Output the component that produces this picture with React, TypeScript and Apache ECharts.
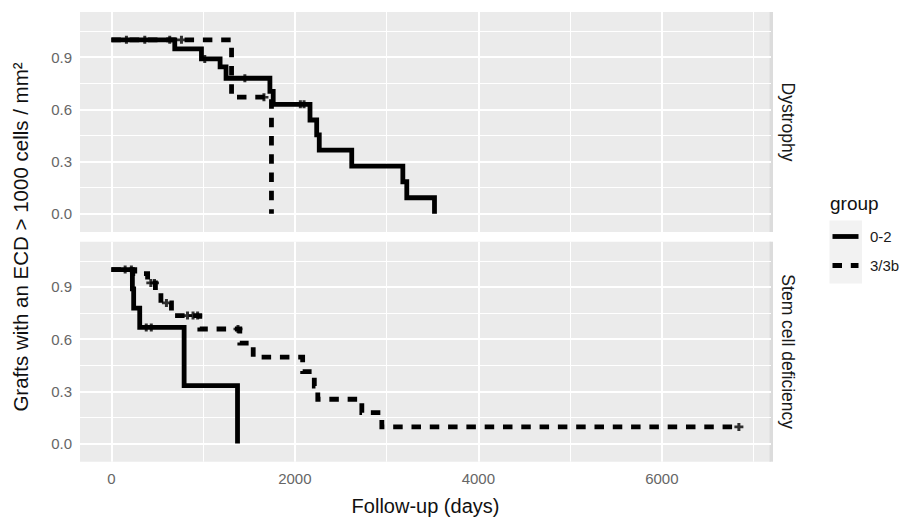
import React, { useEffect, useRef } from "react";
import * as echarts from "echarts";

const groups = ["0-2", "3/3b"];
const panels = ["Dystrophy", "Stem cell deficiency"];
const xTicks = [0, 2000, 4000, 6000];
const xMinor = [1000, 3000, 5000, 7000];
const yTicks = [0, 0.3, 0.6, 0.9];
const yMinor = [0.15, 0.45, 0.75, 1.05];

// Kaplan-Meier step curves: [day, survival]
const dysG02 = [
  [0, 1], [691, 0.948], [982, 0.89], [1185, 0.845], [1250, 0.779], [1728, 0.704],
  [1764, 0.629], [2165, 0.539], [2238, 0.453], [2266, 0.366], [2620, 0.274],
  [3177, 0.184], [3220, 0.092], [3522, 0],
];
const dysG02Censor = [164, 364, 636, 1018, 1455, 2060, 2100];
const dysG3 = [[0, 1], [1310, 0.67], [1745, 0]];
const dysG3Censor = [764, 1663];

const scdG02 = [[0, 1], [229, 0.889], [243, 0.778], [309, 0.667], [793, 0.333], [1375, 0]];
const scdG02Censor = [218, 380, 435];
const scdG3 = [
  [0, 1], [255, 0.977], [395, 0.923], [480, 0.866], [540, 0.808], [655, 0.735],
  [964, 0.658], [1400, 0.577], [1546, 0.496], [2085, 0.413], [2212, 0.33],
  [2250, 0.254], [2730, 0.177], [2948, 0.095], [6840, 0.095],
];
const scdG3Censor = [150, 430, 470, 600, 830, 890, 940, 1380, 6840];

const FONT = "'Liberation Sans', Arial, sans-serif";
const X_MIN = -342;
const X_MAX = 7190;
const Y_MIN = -0.105;
const Y_MAX = 1.16;
const DASH = [9.5, 8.8];

function stepValue(curve: number[][], t: number) {
  let v = curve[0][1];
  for (const p of curve) {
    if (p[0] <= t) v = p[1];
  }
  return v;
}

export default function App() {
  const ref = useRef<HTMLDivElement>(null);
  useEffect(() => {
    if (!ref.current) return;
    const chart = echarts.init(ref.current, null, { renderer: "svg" });

    const grids = [
      { left: 80, width: 691, top: 12, height: 220 },
      { left: 80, width: 691, top: 241.7, height: 220 },
    ];
    const panelData = [
      { curves: [dysG02, dysG3], censors: [dysG02Censor, dysG3Censor] },
      { curves: [scdG02, scdG3], censors: [scdG02Censor, scdG3Censor] },
    ];

    const xAxes = grids.map((_, i) => ({
      type: "value",
      gridIndex: i,
      min: X_MIN,
      max: X_MAX,
      axisLine: { show: false },
      splitLine: { show: false },
      axisTick: {
        show: i === 1,
        customValues: xTicks,
        length: 4,
        lineStyle: { color: "#333", width: 1.6 },
      },
      axisLabel: {
        show: i === 1,
        customValues: xTicks,
        margin: 9,
        fontSize: 15,
        fontFamily: FONT,
        color: "#666",
        formatter: (v: number) => String(Math.round(v)),
      },
      name: i === 1 ? "Follow-up (days)" : "",
      nameLocation: "middle",
      nameGap: 34,
      nameTextStyle: { fontSize: 20, fontFamily: FONT, color: "#111" },
    }));
    const yAxes = grids.map((_, i) => ({
      type: "value",
      gridIndex: i,
      min: Y_MIN,
      max: Y_MAX,
      axisLine: { show: false },
      splitLine: { show: false },
      axisTick: {
        show: true,
        customValues: yTicks,
        length: 4,
        lineStyle: { color: "#333", width: 1.6 },
      },
      axisLabel: {
        customValues: yTicks,
        margin: 8,
        fontSize: 15,
        fontFamily: FONT,
        color: "#666",
        formatter: (v: number) => v.toFixed(1),
      },
    }));

    const series: any[] = [];
    grids.forEach((_, i) => {
      series.push({
        type: "line",
        name: "grid" + i,
        xAxisIndex: i,
        yAxisIndex: i,
        data: [[0, 0]],
        symbol: "none",
        lineStyle: { opacity: 0 },
        silent: true,
        z: 1,
        markLine: {
          silent: true,
          symbol: ["none", "none"],
          label: { show: false },
          animation: false,
          data: [
            ...xMinor.map((v) => ({ xAxis: v, lineStyle: { color: "#fff", width: 1, type: "solid" } })),
            ...yMinor.map((v) => ({ yAxis: v, lineStyle: { color: "#fff", width: 1, type: "solid" } })),
            ...xTicks.map((v) => ({ xAxis: v, lineStyle: { color: "#fff", width: 2, type: "solid" } })),
            ...yTicks.map((v) => ({ yAxis: v, lineStyle: { color: "#fff", width: 2, type: "solid" } })),
          ],
        },
      });
      const pd = panelData[i];
      groups.forEach((g, gi) => {
        series.push({
          type: "line",
          name: g,
          xAxisIndex: i,
          yAxisIndex: i,
          step: "end",
          data: pd.curves[gi],
          symbol: "none",
          showSymbol: false,
          z: 10,
          lineStyle: {
            color: "#000",
            width: 4.8,
            type: gi === 0 ? "solid" : DASH,
            cap: "butt",
            join: "miter",
          },
          itemStyle: { color: "#000" },
        });
        series.push({
          type: "scatter",
          name: "censor-" + g + "-" + i,
          xAxisIndex: i,
          yAxisIndex: i,
          data: pd.censors[gi].map((t) => [t, stepValue(pd.curves[gi], t)]),
          symbol: "path://M3,0H6V3H9V6H6V9H3V6H0V3H3Z",
          symbolSize: [9, 8],
          itemStyle: { color: "#000" },
          z: 11,
        });
      });
    });

    const stripText = (text: string, y: number) => ({
      type: "text", x: 788, y, rotation: -Math.PI / 2, silent: true,
      style: { text, fontSize: 17.5, fontFamily: FONT, fill: "#1a1a1a", align: "center", verticalAlign: "middle" },
    });

    const option: any = {
      animation: false,
      backgroundColor: "#fff",
      grid: grids.map((g) => ({
        ...g,
        show: true,
        backgroundColor: "#EBEBEB",
        borderWidth: 0,
      })),
      xAxis: xAxes,
      yAxis: yAxes,
      series,
      graphic: [
        { type: "rect", shape: { x: 769.5, y: 12, width: 3.5, height: 220 }, style: { fill: "#DCDCDC" }, silent: true },
        { type: "rect", shape: { x: 769.5, y: 241.7, width: 3.5, height: 220 }, style: { fill: "#DCDCDC" }, silent: true },
        stripText(panels[0], 122),
        stripText(panels[1], 351.7),
        {
          type: "text", x: 20, y: 237, rotation: Math.PI / 2, silent: true,
          style: { text: "Grafts with an ECD > 1000 cells / mm²", fontSize: 20.5, fontFamily: FONT, fill: "#111", align: "center", verticalAlign: "middle" },
        },
        {
          type: "text", x: 830, y: 203, silent: true,
          style: { text: "group", fontSize: 19, fontFamily: FONT, fill: "#111", align: "left", verticalAlign: "middle" },
        },
        { type: "rect", shape: { x: 829.5, y: 220.5, width: 32.5, height: 63 }, style: { fill: "#F2F2F2" }, silent: true },
        {
          type: "line", silent: true,
          shape: { x1: 832.5, y1: 236.5, x2: 858.5, y2: 236.5 },
          style: { stroke: "#000", lineWidth: 4.8 },
        },
        {
          type: "line", silent: true,
          shape: { x1: 832.5, y1: 265.5, x2: 858.5, y2: 265.5 },
          style: { stroke: "#000", lineWidth: 4.8, lineDash: DASH },
        },
        {
          type: "text", x: 870, y: 236.5, silent: true,
          style: { text: groups[0], fontSize: 15, fontFamily: FONT, fill: "#1a1a1a", align: "left", verticalAlign: "middle" },
        },
        {
          type: "text", x: 870, y: 265.5, silent: true,
          style: { text: groups[1], fontSize: 15, fontFamily: FONT, fill: "#1a1a1a", align: "left", verticalAlign: "middle" },
        },
      ],
    };
    chart.setOption(option);
    return () => chart.dispose();
  }, []);
  return (
    <div
      ref={ref}
      style={{ position: "fixed", left: 0, top: 0, width: 911, height: 518, background: "#fff" }}
    />
  );
}
